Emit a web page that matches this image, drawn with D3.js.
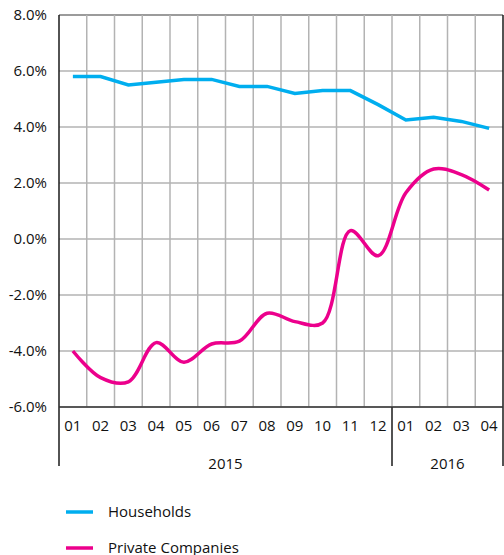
<!DOCTYPE html>
<html lang="en">

<head>
    <meta charset="utf-8">
    <title>Households vs private companies</title>
    <script src="https://d3js.org/d3.v7.min.js"></script>
    <style type="text/css">
        body { margin: 0; background: #fff; }
        text { font-family: "Open Sans", sans-serif; fill: #111; }
    </style>
</head>

<body>
    <script type="text/javascript">

        // data
        var months = ["01", "02", "03", "04", "05", "06", "07", "08", "09", "10", "11", "12",
            "01", "02", "03", "04"];
        var years = [{ label: "2015", from: 0, to: 12 }, { label: "2016", from: 12, to: 16 }];
        var households = [5.8, 5.8, 5.5, 5.6, 5.7, 5.7, 5.45, 5.45, 5.2, 5.3, 5.3, 4.8,
            4.25, 4.35, 4.2, 3.95];
        var privateCompanies = [-4.0, -4.95, -5.1, -3.7, -4.4, -3.75, -3.65, -2.65, -2.95, -3.0, 0.3, -0.6,
            1.65, 2.5, 2.3, 1.75];
        var yTicks = [8, 6, 4, 2, 0, -2, -4, -6];

        var w = 504,
            h = 555,
            mLeft = 59,
            mRight = 503,
            mTop = 15,
            mBottom = 407,
            fontSize = "15px";

        var svg = d3.select("body")
            .append("svg")
            .attr("width", w)
            .attr("height", h);

        var xScale = d3.scaleBand()
            .domain(d3.range(months.length))
            .range([mLeft, mRight]);

        var yScale = d3.scaleLinear()
            .domain([-6, 8])
            .range([mBottom, mTop]);

        var xMid = function (i) { return xScale(i) + xScale.bandwidth() / 2; };
        var xEdge = function (i) { return i >= months.length ? mRight : xScale(i); };

        // horizontal grid
        svg.selectAll("line.hgrid").data(yTicks)
            .enter()
            .append("line")
            .attr("class", "hgrid")
            .attr("x1", mLeft)
            .attr("x2", mRight)
            .attr("y1", function (d) { return yScale(d); })
            .attr("y2", function (d) { return yScale(d); })
            .attr("stroke", function (d) { return d == 8 ? "#7a7a7a" : "#b3b3b3"; })
            .attr("stroke-width", 1.5);

        // vertical grid
        svg.selectAll("line.vgrid").data(d3.range(1, months.length))
            .enter()
            .append("line")
            .attr("class", "vgrid")
            .attr("x1", function (d) { return xScale(d); })
            .attr("x2", function (d) { return xScale(d); })
            .attr("y1", mTop)
            .attr("y2", mBottom)
            .attr("stroke", "#b3b3b3")
            .attr("stroke-width", 1.5);

        // y tick labels
        svg.selectAll("text.ytick").data(yTicks)
            .enter()
            .append("text")
            .attr("class", "ytick")
            .attr("x", 47)
            .attr("y", function (d) { return yScale(d) + 5; })
            .attr("text-anchor", "end")
            .attr("font-size", fontSize)
            .text(function (d) { return d.toFixed(1) + "%"; });

        // month labels
        svg.selectAll("text.month").data(months)
            .enter()
            .append("text")
            .attr("class", "month")
            .attr("x", function (d, i) { return xMid(i); })
            .attr("y", 431)
            .attr("text-anchor", "middle")
            .attr("font-size", fontSize)
            .text(function (d) { return d; });

        // year separators (left axis, year break, right border)
        var sep = [0, 12, 16];
        svg.selectAll("line.sep").data(sep)
            .enter()
            .append("line")
            .attr("class", "sep")
            .attr("x1", xEdge)
            .attr("x2", xEdge)
            .attr("y1", function (d) { return d == 12 ? mBottom : mTop; })
            .attr("y2", 466)
            .attr("stroke", "#1a1a1a")
            .attr("stroke-width", 1.5);

        svg.selectAll("text.year").data(years)
            .enter()
            .append("text")
            .attr("class", "year")
            .attr("x", function (d) { return (xEdge(d.from) + xEdge(d.to)) / 2; })
            .attr("y", 469)
            .attr("text-anchor", "middle")
            .attr("font-size", fontSize)
            .text(function (d) { return d.label; });

        // bottom axis
        svg.append("line")
            .attr("x1", mLeft)
            .attr("x2", mRight)
            .attr("y1", mBottom)
            .attr("y2", mBottom)
            .attr("stroke", "#333")
            .attr("stroke-width", 1.5);

        // lines
        var hhLine = d3.line()
            .x(function (d, i) { return xMid(i); })
            .y(function (d) { return yScale(d); });

        var pcLine = d3.line()
            .x(function (d, i) { return xMid(i); })
            .y(function (d) { return yScale(d); })
            .curve(d3.curveCatmullRom);

        svg.append("path")
            .datum(households)
            .attr("d", hhLine)
            .attr("fill", "none")
            .attr("stroke", "#00aeef")
            .attr("stroke-width", 3.5);

        svg.append("path")
            .datum(privateCompanies)
            .attr("d", pcLine)
            .attr("fill", "none")
            .attr("stroke", "#ec008c")
            .attr("stroke-width", 3.5);

        // legend
        var legend = [{ name: "Households", color: "#00aeef" }, { name: "Private Companies", color: "#ec008c" }];
        var lg = svg.selectAll("g.legend").data(legend)
            .enter()
            .append("g")
            .attr("class", "legend")
            .attr("transform", function (d, i) { return "translate(0," + (512 + i * 36) + ")"; });

        lg.append("line")
            .attr("x1", 66)
            .attr("x2", 93)
            .attr("y1", 0)
            .attr("y2", 0)
            .attr("stroke", function (d) { return d.color; })
            .attr("stroke-width", 3.5);

        lg.append("text")
            .attr("x", 108)
            .attr("y", 5)
            .attr("font-size", fontSize)
            .text(function (d) { return d.name; });

    </script>
</body>

</html>
